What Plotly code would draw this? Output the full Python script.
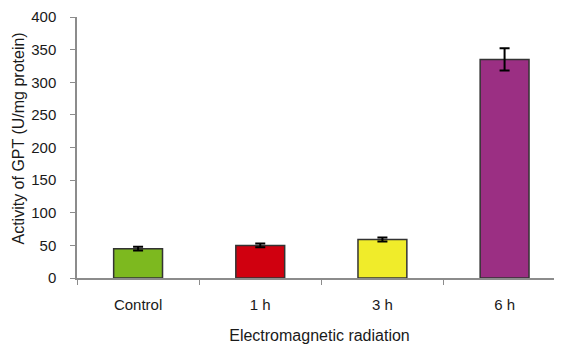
import plotly.graph_objects as go

categories = ["Control", "1 h", "3 h", "6 h"]
values = [45, 50, 59, 335]
errors = [3, 3, 3, 17]
colors = ["#7DB91F", "#D0000F", "#F0EC2A", "#9B2F83"]

fig = go.Figure()
fig.add_trace(go.Bar(
    x=categories, y=values,
    marker=dict(color=colors, line=dict(color="#333333", width=1.5)),
    width=0.4,
    error_y=dict(type="data", array=errors, visible=True, color="black", thickness=2, width=5),
))

font = "Arial, Liberation Sans, sans-serif"
# page body has an 8px margin, so the figure is shrunk and shifted to compensate
fig.update_layout(
    width=554, height=337,
    margin=dict(l=69, r=0, t=9, b=67),
    plot_bgcolor="white", paper_bgcolor="white",
    showlegend=False,
    font=dict(family=font, size=15, color="#1a1a1a"),
    xaxis=dict(
        type="category", range=[-0.5, 3.47], automargin=False,
        showline=True, linecolor="#8c8c8c", linewidth=1.5,
        ticks="outside", tickson="boundaries", ticklen=5, tickcolor="#8c8c8c",
        ticklabelstandoff=12,
        showgrid=False,
        title=dict(text="Electromagnetic radiation", standoff=18, font=dict(size=16)),
    ),
    yaxis=dict(
        range=[0, 400], dtick=50, automargin=False,
        showline=True, linecolor="#8c8c8c", linewidth=1.5,
        ticks="outside", ticklen=5, tickcolor="#8c8c8c",
        ticklabelstandoff=11,
        showgrid=False, zeroline=False,
    ),
    annotations=[dict(
        text="Activity of GPT (U/mg protein)", textangle=-90,
        xref="paper", yref="paper", x=0, y=0.5,
        xanchor="center", yanchor="middle", xshift=-59, yshift=9,
        showarrow=False, font=dict(size=16),
    )],
)
fig.write_html("out.html")
